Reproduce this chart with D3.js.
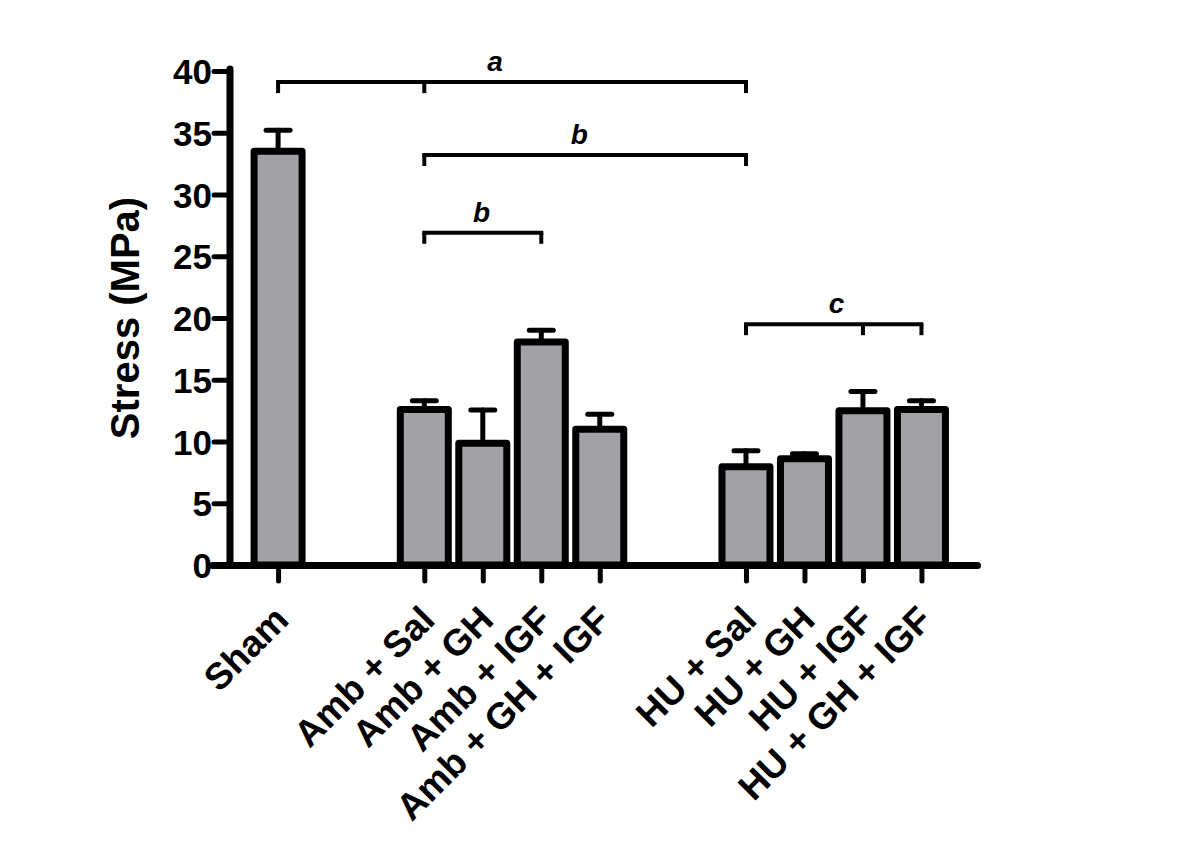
<!DOCTYPE html>
<html>
<head>
<meta charset="utf-8">
<script src="https://cdn.jsdelivr.net/npm/d3@7"></script>
<style>
  html, body { margin: 0; padding: 0; background: #fff; }
  svg { display: block; }
  text { font-family: "Liberation Sans", Arial, sans-serif; font-weight: bold; fill: #000; }
</style>
</head>
<body>
<svg id="chart" width="1200" height="847"></svg>
<script>
// ---------- data ----------
const categories = ["Sham", "Amb + Sal", "Amb + GH", "Amb + IGF", "Amb + GH + IGF",
                    "HU + Sal", "HU + GH", "HU + IGF", "HU + GH + IGF"];
const groups = [0, 1, 1, 1, 1, 2, 2, 2, 2];
const means = [33.5, 12.6, 9.85, 18.05, 11.0, 7.95, 8.6, 12.5, 12.6];
const sem = [1.7, 0.7, 2.7, 0.95, 1.2, 1.3, 0.4, 1.55, 0.7];
const yTicks = [0, 5, 10, 15, 20, 25, 30, 35, 40];
const yTitle = "Stress (MPa)";
// significance brackets: from/to category index, drop points, level (MPa), label
const brackets = [
  { label: "a", from: 0, to: 5, drops: [0, 1, 5], level: 39.1, labelAt: 3.71 },
  { label: "b", from: 1, to: 5, drops: [1, 5], level: 33.2, labelAt: 5.15 },
  { label: "b", from: 1, to: 3, drops: [1, 3], level: 26.9, labelAt: 3.48 },
  { label: "c", from: 5, to: 8, drops: [5, 7, 8], level: 19.5, labelAt: 9.55 }
];

// ---------- layout ----------
const GAP = 1.5;
const slot = i => i + groups[i] * GAP;
const svg = d3.select("#chart");
const x = d3.scaleLinear().domain([-1.13, 11.95]).range([212, 977]);
const y = d3.scaleLinear().domain([0, 40]).range([565, 71]);
const axisX = 230;
const barW = 48;
const fillGray = "#a2a2a6";

// bars
svg.append("g").selectAll("rect")
  .data(means)
  .join("rect")
  .attr("x", (d, i) => x(slot(i)) - barW / 2)
  .attr("width", barW)
  .attr("y", d => y(d))
  .attr("height", d => y(0) - y(d))
  .attr("fill", fillGray)
  .attr("stroke", "#000")
  .attr("stroke-width", 7)
  .attr("stroke-linejoin", "round");

// error bars
const eb = svg.append("g").attr("stroke", "#000").attr("stroke-width", 5).attr("stroke-linecap", "round");
means.forEach((m, i) => {
  const cx = x(slot(i));
  eb.append("line").attr("x1", cx).attr("x2", cx).attr("y1", y(m)).attr("y2", y(m + sem[i]));
  eb.append("line").attr("x1", cx - 12).attr("x2", cx + 12).attr("y1", y(m + sem[i])).attr("y2", y(m + sem[i]));
});

// y axis
const gy = svg.append("g").attr("transform", `translate(${axisX},0)`)
  .call(d3.axisLeft(y).tickValues(yTicks).tickSize(16).tickSizeOuter(0).tickPadding(3));
gy.select(".domain").attr("stroke-width", 7).attr("stroke-linecap", "round")
  .attr("d", `M0,${y(40) - 2}V${y(0)}`);
gy.selectAll(".tick line").attr("stroke-width", 5).attr("stroke-linecap", "round");
gy.selectAll(".tick text").attr("font-size", 35).attr("font-family", "Liberation Sans, Arial, sans-serif")
  .attr("font-weight", "bold").attr("dy", "0.36em").attr("x", -18);

// x axis
const slots = categories.map((c, i) => slot(i));
const gx = svg.append("g").attr("transform", `translate(0,${y(0)})`)
  .call(d3.axisBottom(x).tickValues(slots).tickSize(16).tickSizeOuter(0)
        .tickFormat((d, i) => categories[i]));
gx.select(".domain").attr("stroke-width", 7).attr("stroke-linecap", "round");
gx.selectAll(".tick line").attr("stroke-width", 5).attr("stroke-linecap", "round");
gx.selectAll(".tick text")
  .attr("font-size", 37).attr("font-family", "Liberation Sans, Arial, sans-serif").attr("font-weight", "bold")
  .attr("text-anchor", "end")
  .attr("y", 0).attr("dy", 0)
  .attr("transform", "translate(12,57) rotate(-45)");

// y title
svg.append("text")
  .attr("transform", `translate(139,${(y(0) + y(40)) / 2}) rotate(-90)`)
  .attr("text-anchor", "middle")
  .attr("font-size", 40)
  .text(yTitle);

// brackets
const bg = svg.append("g");
brackets.forEach(b => {
  const yy = y(b.level);
  const drop = 11;
  bg.append("line").attr("x1", x(slot(b.from))).attr("x2", x(slot(b.to)))
    .attr("y1", yy).attr("y2", yy).attr("stroke", "#000").attr("stroke-width", 4).attr("stroke-linecap", "square");
  b.drops.forEach(di => {
    bg.append("line").attr("x1", x(slot(di))).attr("x2", x(slot(di)))
      .attr("y1", yy).attr("y2", yy + drop).attr("stroke", "#000").attr("stroke-width", 4);
  });
  bg.append("text").attr("x", x(b.labelAt)).attr("y", yy - 11)
    .attr("text-anchor", "middle").attr("font-size", 28).attr("font-style", "italic")
    .text(b.label);
});
</script>
</body>
</html>
